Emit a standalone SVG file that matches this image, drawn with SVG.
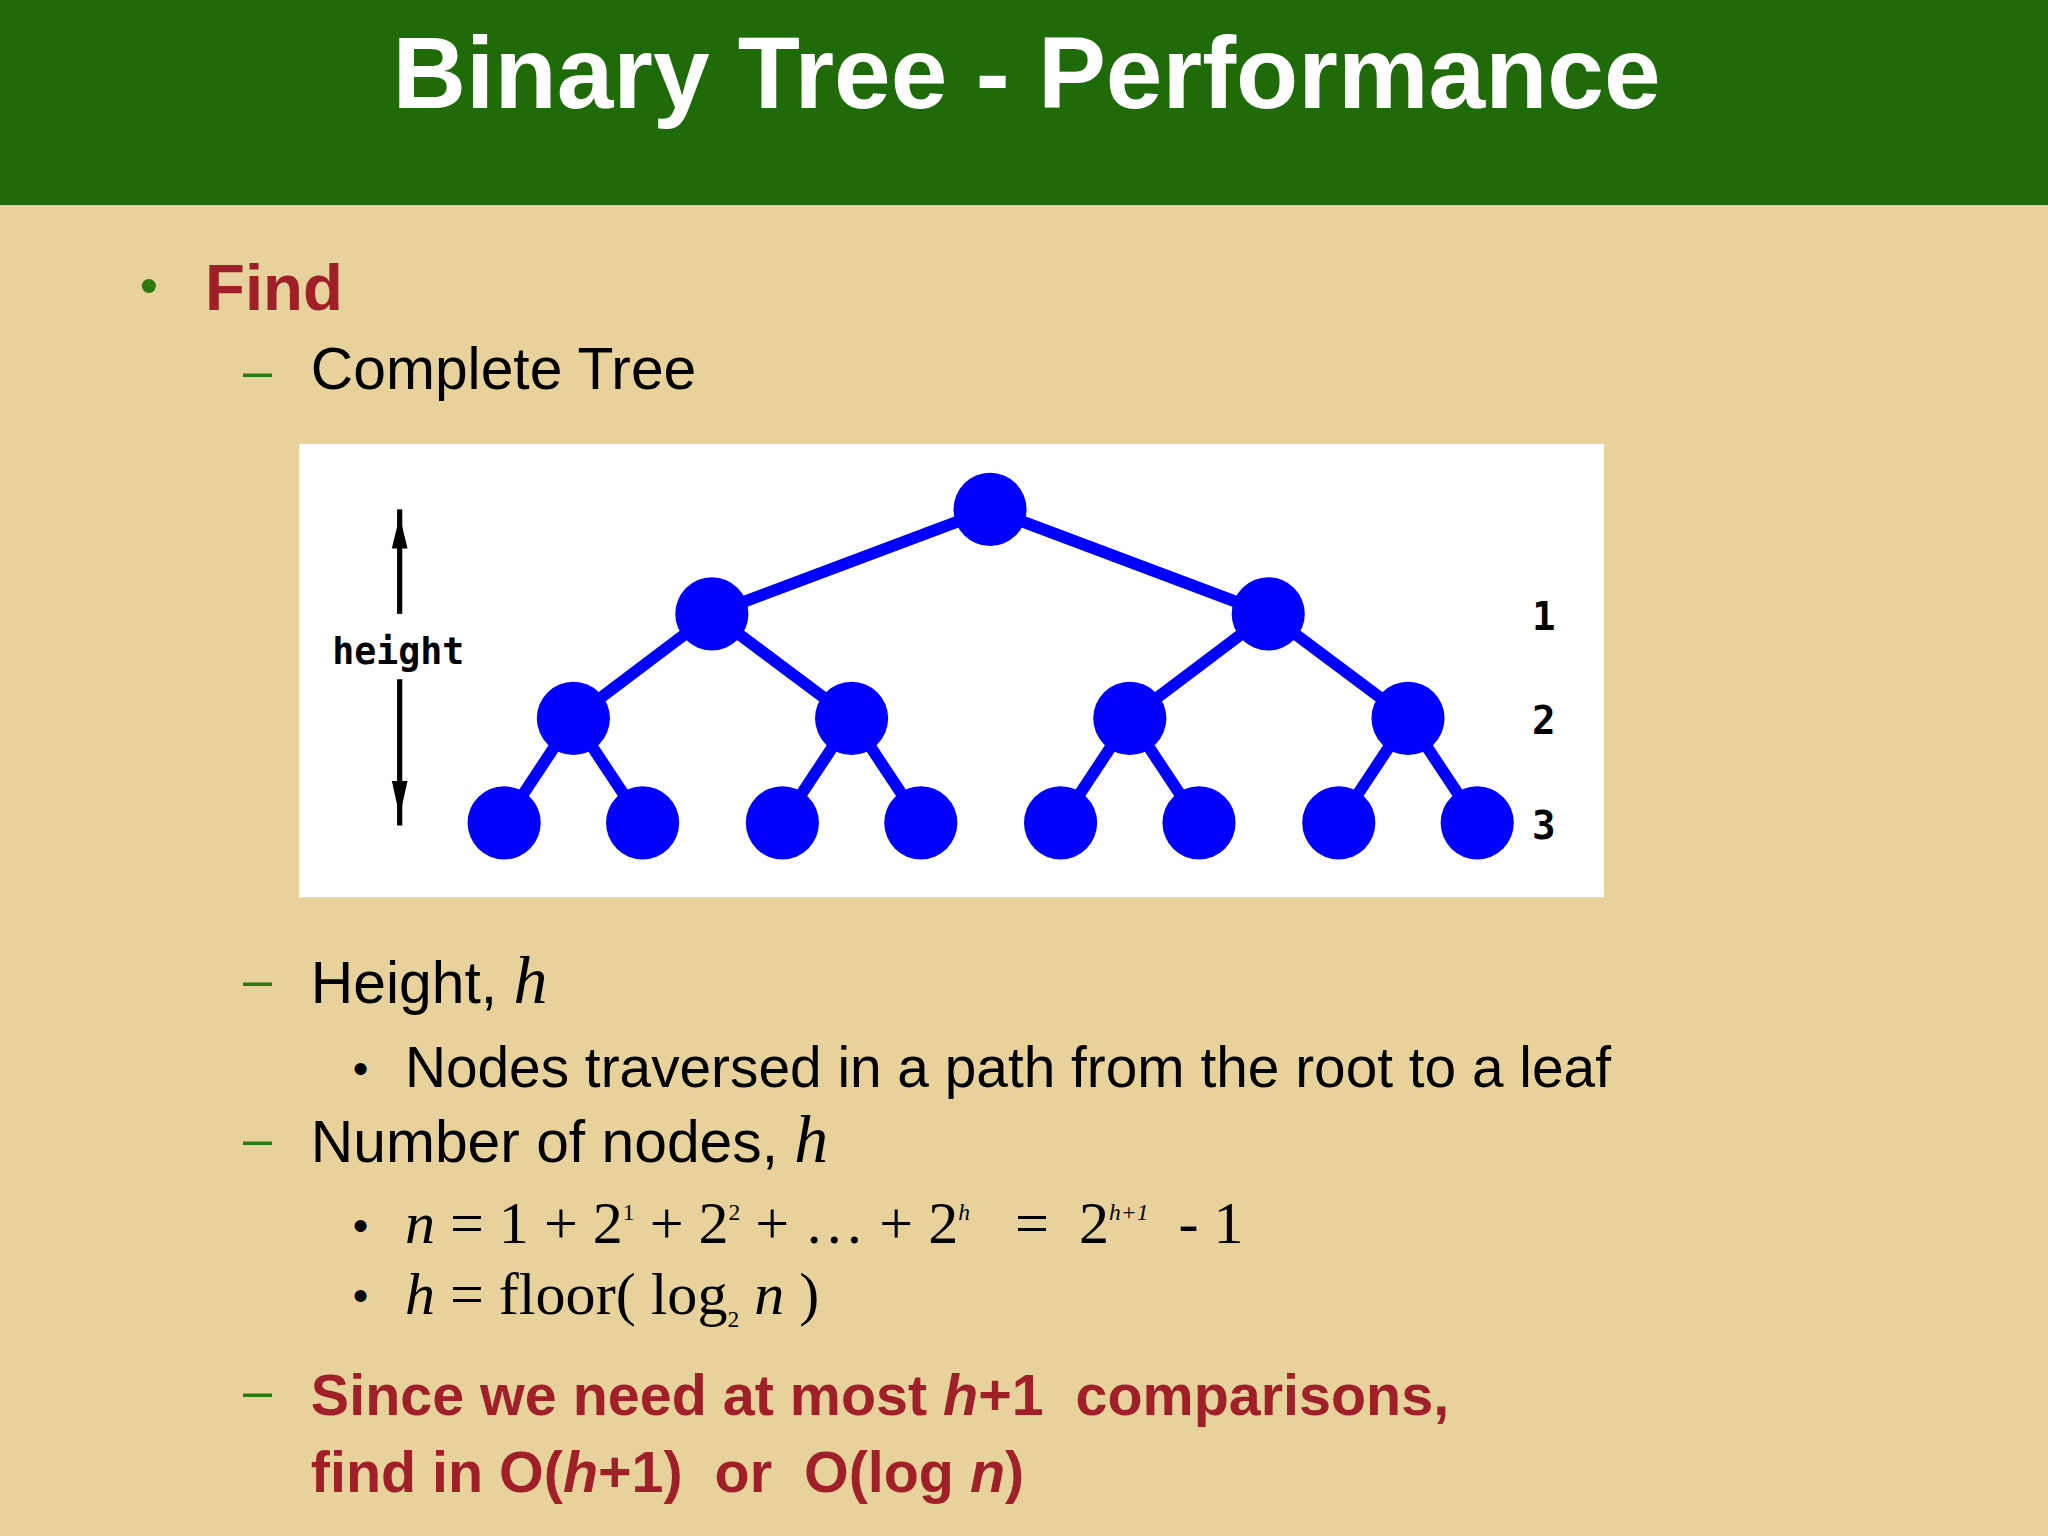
<svg xmlns="http://www.w3.org/2000/svg" width="2048" height="1536" viewBox="0 0 2048 1536">
<style>
text{white-space:pre}
.s{font-family:"Liberation Sans",Arial,sans-serif}
.m{font-family:"Liberation Serif","Times New Roman",serif}
.e{stroke:#0000ff;stroke-width:9}
.n{fill:#0000ff}
.r{fill:#a0202a;font-weight:bold}
.g{fill:#2a7a10}
</style>
<g transform="scale(1.30612)">
<rect width="1568" height="1176" fill="#e8d29c"/>
<rect width="1568" height="157" fill="#1f6b0a"/>
<text x="786" y="83" text-anchor="middle" class="s" font-size="78" font-weight="bold" fill="#fff">Binary Tree - Performance</text>
<text x="107" y="232" class="s g" font-size="40">•</text>
<text x="157" y="237" class="s r" font-size="50">Find</text>
<text x="186" y="297" class="s g" font-size="40">–</text>
<text x="238" y="298" class="s" font-size="45">Complete Tree</text>
<rect x="229" y="340" width="999" height="347" fill="#fff"/>
<g id="connectors">
<line class="e" x1="758" y1="390" x2="545" y2="470"/><line class="e" x1="758" y1="390" x2="971" y2="470"/>
<line class="e" x1="545" y1="470" x2="439" y2="550"/><line class="e" x1="545" y1="470" x2="652" y2="550"/>
<line class="e" x1="971" y1="470" x2="865" y2="550"/><line class="e" x1="971" y1="470" x2="1078" y2="550"/>
<line class="e" x1="439" y1="550" x2="386" y2="630"/><line class="e" x1="439" y1="550" x2="492" y2="630"/>
<line class="e" x1="652" y1="550" x2="599" y2="630"/><line class="e" x1="652" y1="550" x2="705" y2="630"/>
<line class="e" x1="865" y1="550" x2="812" y2="630"/><line class="e" x1="865" y1="550" x2="918" y2="630"/>
<line class="e" x1="1078" y1="550" x2="1025" y2="630"/><line class="e" x1="1078" y1="550" x2="1131" y2="630"/>
</g>
<g id="nodes">
<circle id="n0" class="n" cx="758" cy="390" r="28"/>
<circle id="n1" class="n" cx="545" cy="470" r="28"/><circle id="n2" class="n" cx="971" cy="470" r="28"/>
<circle id="n3" class="n" cx="439" cy="550" r="28"/><circle id="n4" class="n" cx="652" cy="550" r="28"/>
<circle id="n5" class="n" cx="865" cy="550" r="28"/><circle id="n6" class="n" cx="1078" cy="550" r="28"/>
<circle id="n7" class="n" cx="386" cy="630" r="28"/><circle id="n8" class="n" cx="492" cy="630" r="28"/>
<circle id="n9" class="n" cx="599" cy="630" r="28"/><circle id="n10" class="n" cx="705" cy="630" r="28"/>
<circle id="n11" class="n" cx="812" cy="630" r="28"/><circle id="n12" class="n" cx="918" cy="630" r="28"/>
<circle id="n13" class="n" cx="1025" cy="630" r="28"/><circle id="n14" class="n" cx="1131" cy="630" r="28"/>
</g>
<g id="height">
<line x1="306" y1="390" x2="306" y2="470" stroke="#000" stroke-width="4"/>
<line x1="306" y1="520" x2="306" y2="632" stroke="#000" stroke-width="4"/>
<polygon points="306,395 300,420 312,420" fill="#000"/>
<polygon points="306,625 300,598 312,598" fill="#000"/>
<text x="305" y="508" text-anchor="middle" font-family="'DejaVu Sans Mono',monospace" font-weight="bold" font-size="28">height</text>
</g>
<g font-family="'DejaVu Sans Mono',monospace" font-weight="bold" font-size="30">
<text x="1182" y="482" text-anchor="middle">1</text>
<text x="1182" y="562" text-anchor="middle">2</text>
<text x="1182" y="642" text-anchor="middle">3</text>
</g>
<text x="186" y="763" class="s g" font-size="40">–</text>
<text x="238" y="768" class="s" font-size="45">Height, <tspan class="m" font-style="italic" font-size="52">h</tspan></text>
<text x="270" y="830" class="s" font-size="34">•</text>
<text x="310" y="832" class="s" font-size="43.5">Nodes traversed in a path from the root to a leaf</text>
<text x="186" y="885" class="s g" font-size="40">–</text>
<text x="238" y="890" class="s" font-size="45">Number of nodes, <tspan class="m" font-style="italic" font-size="52">h</tspan></text>
<text x="270" y="950" class="s" font-size="34">•</text>
<text x="310" y="952" class="m" font-size="46"><tspan font-style="italic">n</tspan> = 1 + 2<tspan font-size="18" dy="-18">1</tspan><tspan dy="18"> + 2</tspan><tspan font-size="18" dy="-18">2</tspan><tspan dy="18"> + … + 2</tspan><tspan font-size="18" dy="-18" font-style="italic">h</tspan><tspan dy="18">   =  2</tspan><tspan font-size="18" dy="-18" font-style="italic">h+1</tspan><tspan dy="18">  - 1</tspan></text>
<text x="270" y="1004" class="s" font-size="34">•</text>
<text x="310" y="1006" class="m" font-size="46"><tspan font-style="italic">h</tspan> = floor( log<tspan font-size="18" dy="10">2</tspan><tspan dy="-10"> </tspan><tspan font-style="italic">n</tspan> )</text>
<text x="186" y="1078" class="s g" font-size="40">–</text>
<text x="238" y="1083" class="s r" font-size="44">Since we need at most <tspan font-style="italic">h</tspan>+1  comparisons,</text>
<text x="238" y="1142" class="s r" font-size="44">find in O(<tspan font-style="italic">h</tspan>+1)  or  O(log <tspan font-style="italic">n</tspan>)</text>
</g>
</svg>
